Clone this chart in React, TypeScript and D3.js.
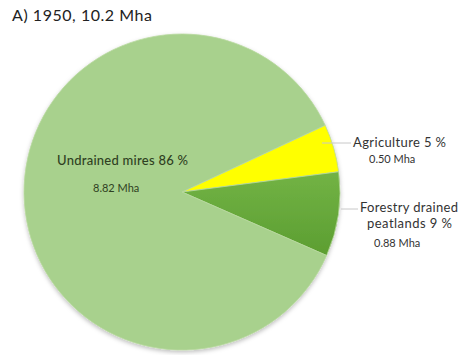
import { useEffect, useRef } from "react";
import * as d3 from "d3";

// 1950 peatland use in Finland (Mha)
const categories = ["Agriculture", "Forestry drained peatlands", "Undrained mires"];
const areas = [0.5, 0.88, 8.82];
const percents = [5, 9, 86];
const colors = ["#ffff00", "#6aad3e", "#a8d18d"];

const width = 459;
const height = 355;

const PieChart = () => {
  const svgRef = useRef<SVGSVGElement>(null);

  useEffect(() => {
    const svg = d3.select(svgRef.current);
    svg.selectAll("*").remove();

    const cx = 182;
    const cy = 192;
    const r = 158;
    const start = (65 * Math.PI) / 180;

    const defs = svg.append("defs");
    const grad = defs
      .append("linearGradient")
      .attr("id", "forestGrad")
      .attr("x1", 0)
      .attr("y1", 0)
      .attr("x2", 0)
      .attr("y2", 1);
    grad.append("stop").attr("offset", "0%").attr("stop-color", "#72b345");
    grad.append("stop").attr("offset", "100%").attr("stop-color", "#5c9e31");

    const shadow = defs.append("filter").attr("id", "shadow").attr("x", "-10%").attr("y", "-10%").attr("width", "120%").attr("height", "120%");
    shadow.append("feDropShadow").attr("dx", 0).attr("dy", 2).attr("stdDeviation", 2).attr("flood-color", "#000").attr("flood-opacity", 0.25);

    const pie = d3
      .pie<number>()
      .sort(null)
      .startAngle(start)
      .endAngle(start + 2 * Math.PI);
    const arcs = pie(areas);
    const arc = d3.arc<d3.PieArcDatum<number>>().innerRadius(0).outerRadius(r);

    const g = svg.append("g").attr("transform", `translate(${cx},${cy})`).attr("filter", "url(#shadow)");
    g.selectAll("path")
      .data(arcs)
      .enter()
      .append("path")
      .attr("d", arc)
      .attr("fill", (_d, i) => (i === 1 ? "url(#forestGrad)" : colors[i]))
      .attr("stroke", "#b9d99f")
      .attr("stroke-width", 0.8);

    const font = "Lato, 'Open Sans', sans-serif";

    // title
    svg
      .append("text")
      .attr("x", 12)
      .attr("y", 21)
      .attr("font-family", font)
      .attr("font-size", 16)
      .attr("fill", "#222")
      .attr("textLength", 140)
      .text("A) 1950, 10.2 Mha");

    // inside label for undrained
    svg
      .append("text")
      .attr("x", 57)
      .attr("y", 165)
      .attr("font-family", font)
      .attr("font-size", 13)
      .attr("font-weight", 500)
      .attr("fill", "#2f3f22")
      .attr("textLength", 131)
      .text(`${categories[2]} ${percents[2]} %`);
    svg
      .append("text")
      .attr("x", 93)
      .attr("y", 192)
      .attr("font-family", font)
      .attr("font-size", 11)
      .attr("fill", "#2f3f22")
      .text(`${areas[2].toFixed(2)} Mha`);

    // leader lines
    const lines = [
      { x1: 322, x2: 351, y: 143 },
      { x1: 341, x2: 358, y: 209 },
    ];
    svg
      .selectAll("line.leader")
      .data(lines)
      .enter()
      .append("line")
      .attr("x1", (d) => d.x1)
      .attr("x2", (d) => d.x2)
      .attr("y1", (d) => d.y)
      .attr("y2", (d) => d.y)
      .attr("stroke", "#c8c8c8")
      .attr("stroke-width", 1);

    const outer = svg.append("g").attr("font-family", font).attr("fill", "#333");
    outer.append("text").attr("x", 353).attr("y", 147).attr("font-size", 13).attr("textLength", 93).text(`${categories[0]} ${percents[0]} %`);
    outer.append("text").attr("x", 369).attr("y", 163).attr("font-size", 11).text(`${areas[0].toFixed(2)} Mha`);
    outer.append("text").attr("x", 360).attr("y", 212).attr("font-size", 13).attr("textLength", 98).text("Forestry drained");
    outer.append("text").attr("x", 367).attr("y", 228).attr("font-size", 13).attr("textLength", 85).text(`peatlands ${percents[1]} %`);
    outer.append("text").attr("x", 374).attr("y", 247).attr("font-size", 11).text(`${areas[1].toFixed(2)} Mha`);
  }, []);

  return (
    <svg
      ref={svgRef}
      width={width}
      height={height}
      style={{ position: "absolute", left: 0, top: 0, display: "block" }}
    />
  );
};

export default function App() {
  return <PieChart />;
}
